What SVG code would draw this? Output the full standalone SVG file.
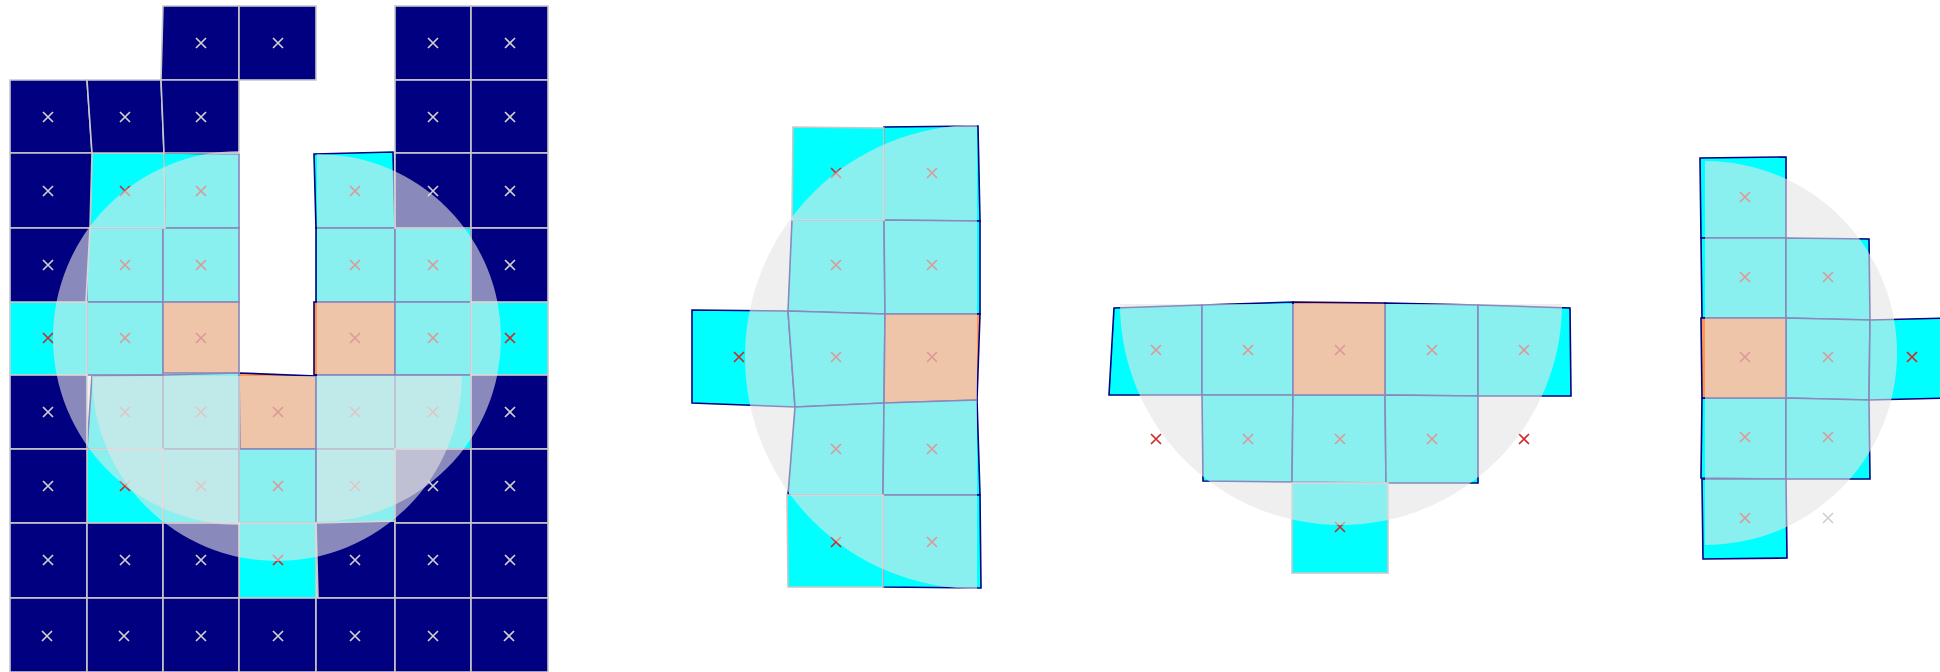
<svg xmlns="http://www.w3.org/2000/svg" width="1940" height="672" viewBox="0 0 1940 672">
<style>
.n{fill:#000080;stroke:#c8c8c8;stroke-width:1.6}
.c{fill:#00ffff;stroke:#c8c8c8;stroke-width:1.6}
.h{fill:#00ffff;stroke:#000080;stroke-width:1.6}
.p{fill:#ff9650;stroke:#000080;stroke-width:1.6}
.xr{stroke:#d02a2a;stroke-width:1.7;fill:none}
.xg{stroke:#d0d0d0;stroke-width:1.7;fill:none}
.ov{fill:#e4e4e4;fill-opacity:0.6;stroke:none}
</style>
<defs>
<path id="x" d="M-5,-5L5,5M5,-5L-5,5"/>
</defs>
<rect width="1940" height="672" fill="#ffffff"/>

<g id="panel1">
<g id="p1-cells">
<polygon class="h" points="164,153 239,154 239,228 165,228"/>
<polygon class="h" points="314,154 393,152 395,228 316,228"/>
<rect class="h" x="87" y="228" width="76" height="74"/>
<rect class="h" x="163" y="228" width="76" height="74"/>
<rect class="h" x="316" y="228" width="79" height="74"/>
<rect class="h" x="395" y="228" width="76" height="74"/>
<rect class="h" x="87" y="302" width="76" height="73"/>
<rect class="p" x="163" y="302" width="76" height="71"/>
<rect class="p" x="314" y="302" width="81" height="73"/>
<rect class="h" x="395" y="302" width="76" height="73"/>
<polygon class="h" points="92,376 163,375 163,449 87,449"/>
<polygon class="h" points="163,375 239,373 239,449 163,449"/>
<polygon class="p" points="239,373 316,376 316,449 240,449"/>
<rect class="h" x="316" y="375" width="79" height="74"/>
<rect class="h" x="395" y="375" width="76" height="74"/>
<rect class="h" x="163" y="449" width="76" height="74"/>
<rect class="h" x="239" y="449" width="77" height="74"/>
<rect class="h" x="316" y="449" width="79" height="74"/>
<polygon class="c" points="92,153 164,153 165,228 90,228"/>
<rect class="c" x="10" y="302" width="77" height="73"/>
<rect class="c" x="471" y="302" width="77" height="73"/>
<rect class="c" x="87" y="449" width="76" height="74"/>
<rect class="c" x="239" y="523" width="77" height="75"/>
<polygon class="n" points="163,6 239,6 239,80 161,80"/>
<rect class="n" x="239" y="6" width="77" height="74"/>
<rect class="n" x="395" y="6" width="76" height="74"/>
<rect class="n" x="471" y="6" width="77" height="74"/>
<polygon class="n" points="10,80 87,80 92,153 10,153"/>
<polygon class="n" points="87,80 161,80 164,153 92,153"/>
<polygon class="n" points="161,80 239,80 239,153 164,153"/>
<rect class="n" x="395" y="80" width="76" height="73"/>
<rect class="n" x="471" y="80" width="77" height="73"/>
<polygon class="n" points="10,153 92,153 90,228 10,228"/>
<rect class="n" x="395" y="153" width="76" height="75"/>
<rect class="n" x="471" y="153" width="77" height="75"/>
<polygon class="n" points="10,228 90,228 86,302 10,302"/>
<rect class="n" x="471" y="228" width="77" height="74"/>
<rect class="n" x="10" y="375" width="77" height="74"/>
<rect class="n" x="471" y="375" width="77" height="74"/>
<rect class="n" x="10" y="449" width="77" height="74"/>
<rect class="n" x="395" y="449" width="76" height="74"/>
<rect class="n" x="471" y="449" width="77" height="74"/>
<rect class="n" x="10" y="523" width="77" height="75"/>
<rect class="n" x="87" y="523" width="76" height="75"/>
<rect class="n" x="163" y="523" width="76" height="75"/>
<polygon class="n" points="316,523 395,521 395,598 318,598"/>
<rect class="n" x="395" y="523" width="76" height="75"/>
<rect class="n" x="471" y="523" width="77" height="75"/>
<rect class="n" x="10" y="598" width="77" height="74"/>
<rect class="n" x="87" y="598" width="76" height="74"/>
<rect class="n" x="163" y="598" width="76" height="74"/>
<rect class="n" x="239" y="598" width="77" height="74"/>
<rect class="n" x="316" y="598" width="79" height="74"/>
<rect class="n" x="395" y="598" width="76" height="74"/>
<rect class="n" x="471" y="598" width="77" height="74"/>
</g>
<g id="p1-marks">
<use href="#x" class="xg" x="201" y="43"/><use href="#x" class="xg" x="278" y="43"/><use href="#x" class="xg" x="433" y="43"/><use href="#x" class="xg" x="510" y="43"/>
<use href="#x" class="xg" x="48" y="117"/><use href="#x" class="xg" x="125" y="117"/><use href="#x" class="xg" x="201" y="117"/><use href="#x" class="xg" x="433" y="117"/><use href="#x" class="xg" x="510" y="117"/>
<use href="#x" class="xg" x="48" y="191"/><use href="#x" class="xr" x="125" y="191"/><use href="#x" class="xr" x="201" y="191"/><use href="#x" class="xr" x="355" y="191"/><use href="#x" class="xg" x="433" y="191"/><use href="#x" class="xg" x="510" y="191"/>
<use href="#x" class="xg" x="48" y="265"/><use href="#x" class="xr" x="125" y="265"/><use href="#x" class="xr" x="201" y="265"/><use href="#x" class="xr" x="355" y="265"/><use href="#x" class="xr" x="433" y="265"/><use href="#x" class="xg" x="510" y="265"/>
<use href="#x" class="xr" x="48" y="338"/><use href="#x" class="xr" x="125" y="338"/><use href="#x" class="xr" x="201" y="338"/><use href="#x" class="xr" x="355" y="338"/><use href="#x" class="xr" x="433" y="338"/><use href="#x" class="xr" x="510" y="338"/>
<use href="#x" class="xg" x="48" y="412"/><use href="#x" class="xr" x="125" y="412"/><use href="#x" class="xr" x="201" y="412"/><use href="#x" class="xr" x="278" y="412"/><use href="#x" class="xr" x="355" y="412"/><use href="#x" class="xr" x="433" y="412"/><use href="#x" class="xg" x="510" y="412"/>
<use href="#x" class="xg" x="48" y="486"/><use href="#x" class="xr" x="125" y="486"/><use href="#x" class="xr" x="201" y="486"/><use href="#x" class="xr" x="278" y="486"/><use href="#x" class="xr" x="355" y="486"/><use href="#x" class="xg" x="433" y="486"/><use href="#x" class="xg" x="510" y="486"/>
<use href="#x" class="xg" x="48" y="560"/><use href="#x" class="xg" x="125" y="560"/><use href="#x" class="xg" x="201" y="560"/><use href="#x" class="xr" x="278" y="560"/><use href="#x" class="xg" x="355" y="560"/><use href="#x" class="xg" x="433" y="560"/><use href="#x" class="xg" x="510" y="560"/>
<use href="#x" class="xg" x="47" y="636"/><use href="#x" class="xg" x="124" y="636"/><use href="#x" class="xg" x="201" y="636"/><use href="#x" class="xg" x="278" y="636"/><use href="#x" class="xg" x="355" y="636"/><use href="#x" class="xg" x="433" y="636"/><use href="#x" class="xg" x="509" y="636"/>
</g>
<g id="p1-areas">
<path class="ov" d="M240,151 A187,187 0 0 0 240,525 Z"/>
<path class="ov" d="M317,154 A184,184 0 0 1 317,522 Z"/>
<path class="ov" d="M92,376 A185,185 0 0 0 462,376 Z"/>
</g>
</g>

<g id="panel2">
<g id="p2-cells">
<polygon class="h" points="884,127 978,126 980,221 884,220"/>
<polygon class="h" points="792,220 884,220 885,314 788,311"/>
<polygon class="h" points="884,220 980,221 980,314 885,314"/>
<polygon class="h" points="692,310 788,311 795,407 692,403"/>
<polygon class="h" points="788,311 885,314 884,403 795,407"/>
<polygon class="p" points="885,314 980,314 977,400 884,403"/>
<polygon class="h" points="795,407 884,403 883,495 788,495"/>
<polygon class="h" points="884,403 977,400 980,495 883,495"/>
<polygon class="h" points="883,495 980,495 981,588 883,587"/>
<polygon class="c" points="793,127 884,128 884,220 792,220"/>
<polygon class="c" points="787,495 883,495 883,587 788,587"/>
</g>
<g id="p2-marks">
<use href="#x" class="xr" x="836" y="173"/><use href="#x" class="xr" x="932" y="173"/>
<use href="#x" class="xr" x="836" y="265"/><use href="#x" class="xr" x="932" y="265"/>
<use href="#x" class="xr" x="739" y="357"/><use href="#x" class="xr" x="836" y="357"/><use href="#x" class="xr" x="932" y="357"/>
<use href="#x" class="xr" x="836" y="449"/><use href="#x" class="xr" x="932" y="449"/>
<use href="#x" class="xr" x="836" y="542"/><use href="#x" class="xr" x="932" y="542"/>
</g>
<path id="p2-area" class="ov" d="M977,125 A232,232 0 0 0 977,589 Z"/>
</g>

<g id="panel3">
<g id="p3-cells">
<polygon class="h" points="1114,308 1202,305 1202,395 1109,395"/>
<polygon class="h" points="1202,305 1293,302 1293,395 1202,395"/>
<polygon class="h" points="1385,303 1478,305 1478,396 1385,395"/>
<polygon class="h" points="1478,305 1570,308 1571,396 1478,396"/>
<polygon class="h" points="1202,395 1293,395 1292,482 1203,481"/>
<polygon class="h" points="1293,395 1385,395 1386,483 1292,482"/>
<polygon class="h" points="1385,395 1478,396 1478,483 1386,483"/>
<polygon class="p" points="1293,302 1385,303 1385,395 1293,395"/>
<rect class="c" x="1292" y="483" width="96" height="90"/>
</g>
<g id="p3-marks">
<use href="#x" class="xr" x="1156" y="350"/><use href="#x" class="xr" x="1248" y="350"/><use href="#x" class="xr" x="1340" y="350"/><use href="#x" class="xr" x="1432" y="350"/><use href="#x" class="xr" x="1524" y="350"/>
<use href="#x" class="xr" x="1156" y="439"/><use href="#x" class="xr" x="1248" y="439"/><use href="#x" class="xr" x="1340" y="439"/><use href="#x" class="xr" x="1432" y="439"/><use href="#x" class="xr" x="1524" y="439"/>
<use href="#x" class="xr" x="1340" y="527"/>
</g>
<path id="p3-area" class="ov" d="M1120,304 A221,221 0 0 0 1562,304 Z"/>
</g>

<g id="panel4">
<g id="p4-cells">
<polygon class="h" points="1700,158 1786,157 1786,238 1701,238"/>
<polygon class="h" points="1701,238 1786,238 1786,318 1702,318"/>
<polygon class="h" points="1786,238 1869,239 1870,320 1786,318"/>
<polygon class="h" points="1786,318 1870,320 1869,400 1786,398"/>
<polygon class="h" points="1870,320 1950,318 1950,398 1869,400"/>
<polygon class="h" points="1702,398 1786,398 1786,479 1701,478"/>
<polygon class="h" points="1786,398 1869,400 1870,479 1786,479"/>
<polygon class="h" points="1702,479 1786,479 1787,558 1703,559"/>
<polygon class="p" points="1701,318 1786,318 1786,398 1702,398"/>
</g>
<g id="p4-marks">
<use href="#x" class="xr" x="1745" y="197"/>
<use href="#x" class="xr" x="1745" y="277"/><use href="#x" class="xr" x="1828" y="277"/>
<use href="#x" class="xr" x="1745" y="357"/><use href="#x" class="xr" x="1828" y="357"/><use href="#x" class="xr" x="1912" y="357"/>
<use href="#x" class="xr" x="1745" y="437"/><use href="#x" class="xr" x="1828" y="437"/>
<use href="#x" class="xr" x="1745" y="518"/><use href="#x" class="xg" x="1828" y="518"/>
</g>
<path id="p4-area" class="ov" d="M1705,161 A192,192 0 0 1 1705,545 Z"/>
</g>
</svg>
